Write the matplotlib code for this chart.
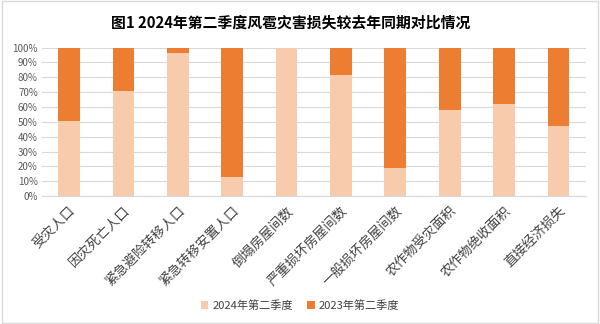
import numpy as np
import matplotlib
matplotlib.use("Agg")
from matplotlib import pyplot as plt
from matplotlib.ticker import PercentFormatter

plt.rcParams['font.family'] = ['Noto Sans CJK SC', 'DejaVu Sans']

categories = ['受灾人口', '因灾死亡人口', '紧急避险转移人口', '紧急转移安置人口', '倒塌房屋间数',
              '严重损坏房屋间数', '一般损坏房屋间数', '农作物受灾面积', '农作物绝收面积', '直接经济损失']
share_2024 = [50.5, 71.0, 96.5, 13.0, 100.0, 81.5, 19.0, 58.0, 62.0, 47.5]
share_2023 = [100 - v for v in share_2024]
series_names = ['2024年第二季度', '2023年第二季度']

fig = plt.figure(figsize=(6, 3.24), dpi=100)
fig.patches.append(plt.Rectangle((0.003, 0.003), 0.994, 0.994, transform=fig.transFigure,
                                 fill=False, edgecolor='#d9d9d9', linewidth=1))

ax = fig.add_axes([0.07, 0.395, 0.906, 0.458])
x = np.arange(len(categories))
ax.bar(x, share_2024, width=0.4, color='#F8CBAD', label=series_names[0], zorder=2)
ax.bar(x, share_2023, width=0.4, bottom=share_2024, color='#ED7D31', label=series_names[1], zorder=2)

ax.set_xlim(-0.5, len(categories) - 0.5)
ax.set_ylim(0, 100)
ax.set_yticks(np.arange(0, 101, 10))
ax.yaxis.set_major_formatter(PercentFormatter(decimals=0))
ax.grid(axis='y', color='#d9d9d9', linewidth=0.8, zorder=0)
for s in ['top', 'right', 'left']:
    ax.spines[s].set_visible(False)
ax.spines['bottom'].set_color('#d9d9d9')
ax.tick_params(axis='y', length=0, labelsize=7, labelcolor='#595959', pad=3)
ax.tick_params(axis='x', length=0, pad=6)
ax.set_xticks(x)
ax.set_xticklabels(categories, rotation=45, ha='right', rotation_mode='anchor',
                   fontsize=9.5, color='#404040')

fig.text(0.485, 0.932, '图1 2024年第二季度风雹灾害损失较去年同期对比情况',
         ha='center', va='center', fontsize=10.7, fontweight='bold')

fig.legend(loc='center', bbox_to_anchor=(0.5, 0.058), ncol=2, frameon=False,
           fontsize=8, handlelength=0.7, handleheight=0.7, columnspacing=1.2,
           handletextpad=0.4, labelcolor='#404040')

fig.savefig('out.png', dpi=100)
